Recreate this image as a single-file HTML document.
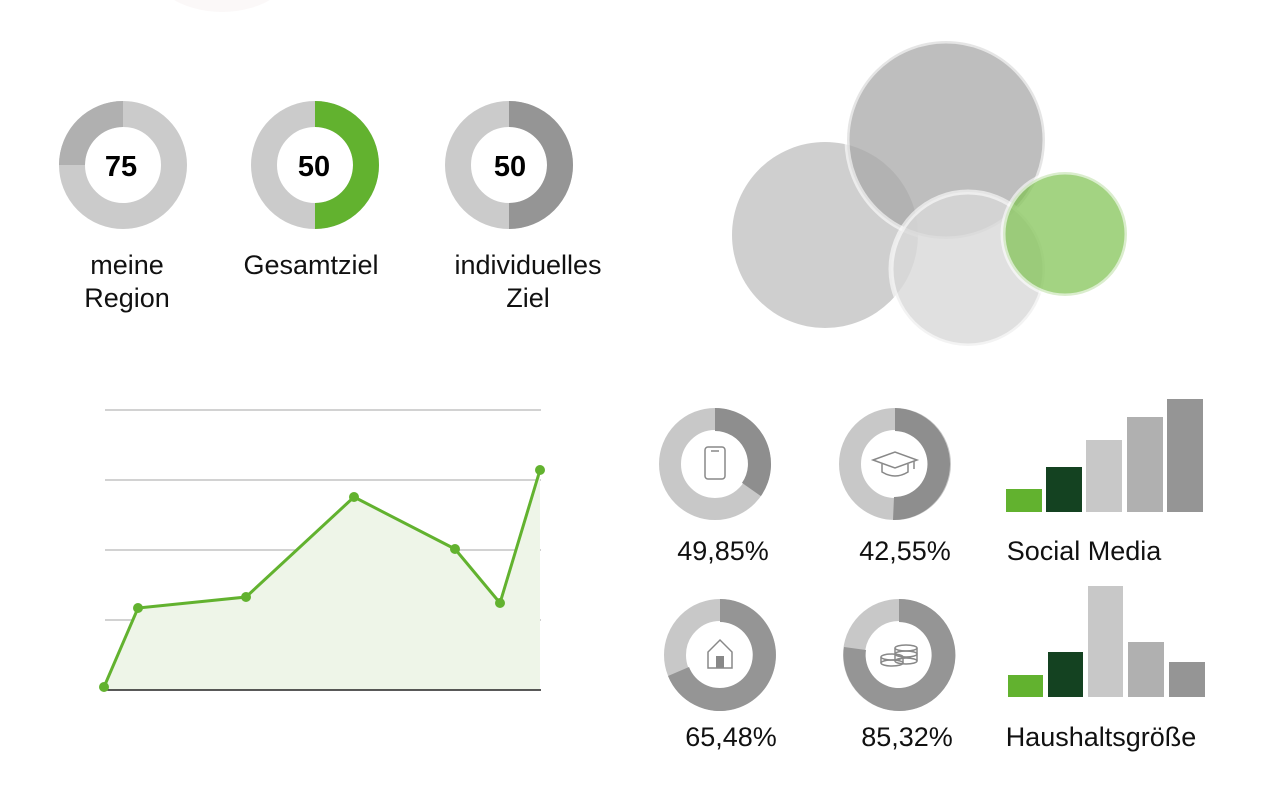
<!DOCTYPE html>
<html><head><meta charset="utf-8"><style>
html,body{margin:0;padding:0;background:#fff;}
svg{display:block;font-family:"Liberation Sans",sans-serif;}
</style></head><body>
<svg width="1276" height="808" viewBox="0 0 1276 808" xmlns="http://www.w3.org/2000/svg">
<ellipse cx="222" cy="-40" rx="75" ry="52" fill="#fbf8f8"/>
<!-- top donuts -->
<g>
<circle cx="123" cy="165" r="51" fill="none" stroke="#cbcbcb" stroke-width="26"/>
<path d="M123 101 A64 64 0 0 0 59 165 L85 165 A38 38 0 0 1 123 127 Z" fill="#b0b0b0"/>
<text x="121" y="176" font-size="29" font-weight="bold" text-anchor="middle">75</text>
<circle cx="315" cy="165" r="51" fill="none" stroke="#cbcbcb" stroke-width="26"/>
<path d="M315 101 A64 64 0 0 1 315 229 L315 203 A38 38 0 0 0 315 127 Z" fill="#62b22f"/>
<text x="314" y="176" font-size="29" font-weight="bold" text-anchor="middle">50</text>
<circle cx="509" cy="165" r="51" fill="none" stroke="#cbcbcb" stroke-width="26"/>
<path d="M509 101 A64 64 0 0 1 509 229 L509 203 A38 38 0 0 0 509 127 Z" fill="#959595"/>
<text x="510" y="176" font-size="29" font-weight="bold" text-anchor="middle">50</text>
</g>
<g font-size="27" text-anchor="middle" fill="#111">
<text x="127" y="274">meine</text><text x="127" y="307">Region</text>
<text x="311" y="274">Gesamtziel</text>
<text x="528" y="274">individuelles</text><text x="528" y="307">Ziel</text>
</g>
<!-- bubbles -->
<g>
<circle cx="825" cy="235" r="93" fill="#bdbdbd" fill-opacity="0.72"/>
<circle cx="946" cy="140" r="99" fill="#a8a8a8" fill-opacity="0.75" stroke="#fff" stroke-opacity="0.6" stroke-width="5"/>
<circle cx="968" cy="269" r="77" fill="#d8d8d8" fill-opacity="0.8" stroke="#fff" stroke-opacity="0.6" stroke-width="5"/>
<circle cx="1065" cy="234" r="62" fill="#7fc252" fill-opacity="0.72" stroke="#fff" stroke-opacity="0.6" stroke-width="5"/>
</g>
<!-- line chart -->
<g stroke="#c4c4c4" stroke-width="1.5">
<line x1="105" y1="410" x2="541" y2="410"/><line x1="105" y1="480" x2="541" y2="480"/>
<line x1="105" y1="550" x2="541" y2="550"/><line x1="105" y1="620" x2="541" y2="620"/>
</g>
<path d="M104 687 L138 608 L246 597 L354 497 L455 549 L500 603 L540 470 L540 690 L104 690 Z" fill="#eef5e8"/>
<line x1="105" y1="690" x2="541" y2="690" stroke="#222" stroke-width="1.5"/>
<polyline points="104,687 138,608 246,597 354,497 455,549 500,603 540,470" fill="none" stroke="#62b22f" stroke-width="3"/>
<g fill="#62b22f">
<circle cx="104" cy="687" r="5"/><circle cx="138" cy="608" r="5"/><circle cx="246" cy="597" r="5"/><circle cx="354" cy="497" r="5"/><circle cx="455" cy="549" r="5"/><circle cx="500" cy="603" r="5"/><circle cx="540" cy="470" r="5"/>
</g>
<!-- small donuts -->
<g>
<circle cx="715" cy="464" r="45" fill="none" stroke="#c8c8c8" stroke-width="22"/>
<path d="M715 408 A56 56 0 0 1 760.9 496.1 L742.0 482.9 A33 33 0 0 0 715 431 Z" fill="#8e8e8e"/>
<rect x="705" y="447" width="20" height="32" rx="3" fill="none" stroke="#888" stroke-width="1.5"/>
<line x1="711" y1="451" x2="719" y2="451" stroke="#888" stroke-width="1.5"/>
<circle cx="895" cy="464" r="45" fill="none" stroke="#c8c8c8" stroke-width="22"/>
<path d="M895 408 A56 56 0 0 1 893 520 L894 497 A33 33 0 0 0 895 431 Z" fill="#8e8e8e"/>
<path d="M873 460 L895 452 L917 460 L895 468 Z" fill="none" stroke="#888" stroke-width="1.5"/>
<path d="M882 464 L882 472 Q895 480 908 472 L908 464" fill="none" stroke="#888" stroke-width="1.5"/>
<line x1="914" y1="461" x2="914" y2="469" stroke="#888" stroke-width="1.5"/>
<circle cx="720" cy="655" r="45" fill="none" stroke="#c8c8c8" stroke-width="22"/>
<path d="M720 599 A56 56 0 1 1 668 676 L689 667 A33 33 0 1 0 720 622 Z" fill="#959595"/>
<path d="M708 668 L708 652 L720 640 L732 652 L732 668 Z" fill="none" stroke="#888" stroke-width="1.5"/>
<rect x="716" y="656" width="8" height="12" fill="#888"/>
<circle cx="899" cy="655" r="45" fill="none" stroke="#c8c8c8" stroke-width="22"/>
<path d="M899 599 A56 56 0 1 1 844 647 L866 650 A33 33 0 1 0 899 622 Z" fill="#959595"/>
<g fill="none" stroke="#888" stroke-width="1.5">
<ellipse cx="906" cy="648" rx="11" ry="3"/><path d="M895 648 V661 M917 648 V661"/><ellipse cx="906" cy="654" rx="11" ry="3"/><ellipse cx="906" cy="661" rx="11" ry="3"/>
<ellipse cx="892" cy="657" rx="11" ry="3"/><path d="M881 657 V663 M903 657 V663"/><ellipse cx="892" cy="663" rx="11" ry="3"/>
</g>
</g>
<g font-size="27" text-anchor="middle" fill="#111">
<text x="723" y="560">49,85%</text><text x="905" y="560">42,55%</text>
<text x="731" y="746">65,48%</text><text x="907" y="746">85,32%</text>
<text x="1084" y="560">Social Media</text><text x="1101" y="746">Haushaltsgröße</text>
</g>
<!-- bars -->
<rect x="1006" y="489" width="36" height="23" fill="#62b22f"/>
<rect x="1046" y="467" width="36" height="45" fill="#144221"/>
<rect x="1086" y="440" width="36" height="72" fill="#c8c8c8"/>
<rect x="1127" y="417" width="36" height="95" fill="#b0b0b0"/>
<rect x="1167" y="399" width="36" height="113" fill="#959595"/>
<rect x="1008" y="675" width="35" height="22" fill="#62b22f"/>
<rect x="1048" y="652" width="35" height="45" fill="#144221"/>
<rect x="1088" y="586" width="35" height="111" fill="#c8c8c8"/>
<rect x="1128" y="642" width="36" height="55" fill="#b0b0b0"/>
<rect x="1169" y="662" width="36" height="35" fill="#959595"/>
</svg>
</body></html>
